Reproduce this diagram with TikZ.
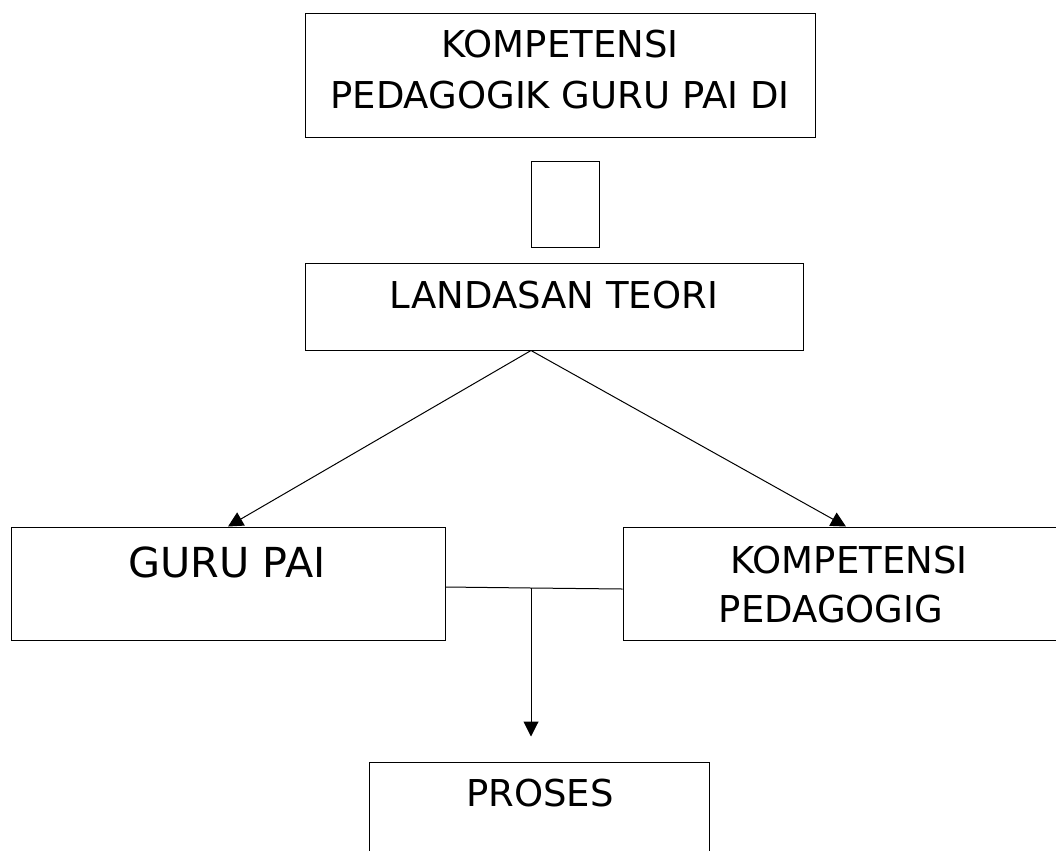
\documentclass[tikz,border=0pt]{standalone}
\usepackage{fontspec}
\setmainfont{DejaVu Sans}
\usetikzlibrary{arrows.meta,calc}
\tikzset{every picture/.style={line width=0.75pt}}
\tikzset{
  kotak/.style={draw, fill=white, inner sep=0pt},
  teks/.style={anchor=base, inner sep=0pt, font=\fontsize{27.75}{37}\selectfont},
  panah/.style={-{Triangle[length=11.25pt,width=11.25pt]}}
}

\begin{document}
\begin{tikzpicture}[x=0.75pt,y=0.75pt,yscale=-1,xscale=1]
\path[use as bounding box, clip] (0,0) rectangle (1056,850);

%Shape: Rectangle [judul]
\node[kotak, minimum width=510*0.75pt, minimum height=124*0.75pt] (judul) at (560,75) {};
%Shape: Rectangle [kecil]
\node[kotak, minimum width=68*0.75pt, minimum height=86*0.75pt] (kecil) at (565,204) {};
%Shape: Rectangle [landasan]
\node[kotak, minimum width=498*0.75pt, minimum height=87*0.75pt] (landasan) at (554,306.5) {};
%Shape: Rectangle [guru]
\node[kotak, minimum width=434*0.75pt, minimum height=113*0.75pt] (guru) at (228,583.5) {};
%Shape: Rectangle [komp]
\node[kotak, minimum width=446*0.75pt, minimum height=113*0.75pt] (komp) at (846,583.5) {};
%Shape: Rectangle [proses]
\node[kotak, minimum width=340*0.75pt, minimum height=138*0.75pt] (proses) at (539,831) {};

%Straight Lines [cabang]
\coordinate (cabang) at ($(landasan.south)+(-23,0)$);
\draw[panah] (cabang) -- (guru.north);
\draw[panah] (cabang) -- (komp.north);
%Straight Lines [gabung]
\coordinate (gabung) at (531,588);
\draw ($(guru.east)+(0,3.5)$) -- (gabung) -- ($(komp.west)+(0,5.5)$);
\draw[panah, shorten >=18.75pt] (gabung) -- (gabung |- proses.north);

% Text Node
\node[teks] (judul-a) at (560,57) {KOMPETENSI};
% Text Node
\node[teks] (judul-b) at (560,108) {PEDAGOGIK GURU PAI DI};
% Text Node
\node[teks] (landasan-teks) at (554,308) {LANDASAN TEORI};
% Text Node
\node[teks, font=\fontsize{31}{40}\selectfont] (guru-teks) at (227,577) {GURU PAI};
% Text Node
\node[teks] (komp-a) at (849,573) {KOMPETENSI};
% Text Node
\node[teks] (komp-b) at (831,622) {PEDAGOGIG};
% Text Node
\node[teks] (proses-teks) at (540,806) {PROSES};

\end{tikzpicture}
\end{document}
